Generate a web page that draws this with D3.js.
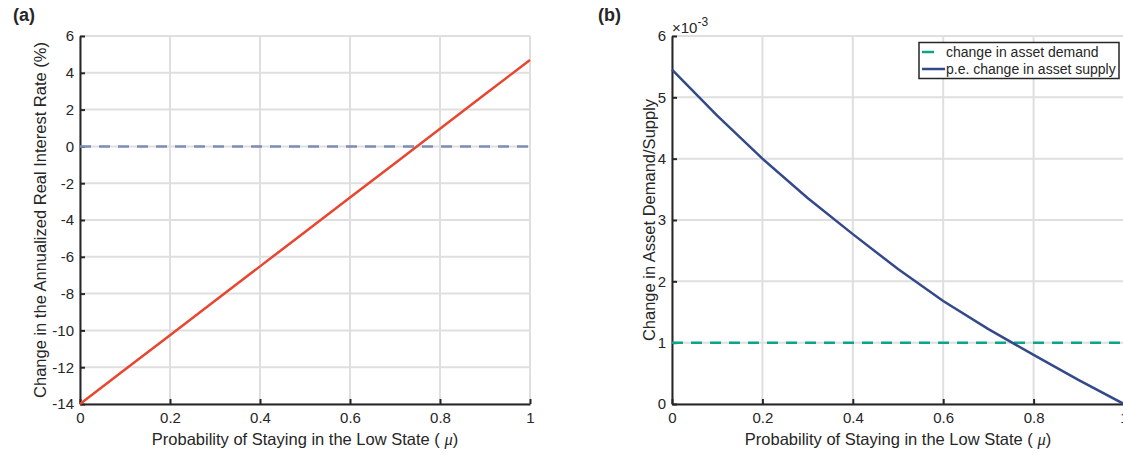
<!DOCTYPE html>
<html><head><meta charset="utf-8">
<script src="https://cdn.jsdelivr.net/npm/d3@7"></script>
<style>
html,body{margin:0;padding:0;background:#fff;}
svg{display:block;}
text{font-family:"Liberation Sans",Arial,Helvetica,sans-serif;fill:#262626;}
</style></head>
<body>
<svg id="chart" width="1123" height="455"></svg>
<script>
// ---- data ----
const mu = [0, 0.1, 0.2, 0.3, 0.4, 0.5, 0.6, 0.7, 0.8, 0.9, 1.0];
const rateChange = [-14, -12.13, -10.26, -8.39, -6.52, -4.65, -2.78, -0.91, 0.96, 2.83, 4.7];
const rateZero = [0, 0];
const muEnds = [0, 1];
const demandChange = [1.0, 1.0]; // x 10^-3
const supplyChange = [5.45, 4.70, 4.00, 3.36, 2.77, 2.20, 1.68, 1.22, 0.80, 0.39, 0.0]; // x 10^-3
const xTicks = [0, 0.2, 0.4, 0.6, 0.8, 1];
const xTickLabels = ["0", "0.2", "0.4", "0.6", "0.8", "1"];
const yTicksA = [-14, -12, -10, -8, -6, -4, -2, 0, 2, 4, 6];
const yTicksB = [0, 1, 2, 3, 4, 5, 6];
const legendLabels = ["change in asset demand", "p.e. change in asset supply"];
const xTitle = "Probability of Staying in the Low State (";
const yTitleA = "Change in the Annualized Real Interest Rate (%)";
const yTitleB = "Change in Asset Demand/Supply";

const svg = d3.select("#chart");
const plotTop = 36, plotBottom = 404;
const gridC = "#dfdfdf", axisC = "#262626";

function panel(x0, x1, yDomain, yTicks, opts) {
  const x = d3.scaleLinear().domain([0, 1]).range([x0, x1]);
  const y = d3.scaleLinear().domain(yDomain).range([plotBottom, plotTop]);
  const g = svg.append("g");
  // grid
  g.selectAll(".vg").data(xTicks).enter().append("line")
    .attr("x1", d => x(d)).attr("x2", d => x(d)).attr("y1", plotTop).attr("y2", plotBottom)
    .attr("stroke", gridC).attr("stroke-width", 2);
  g.selectAll(".hg").data(yTicks).enter().append("line")
    .attr("x1", x0).attr("x2", x1).attr("y1", d => y(d)).attr("y2", d => y(d))
    .attr("stroke", gridC).attr("stroke-width", 2);
  // axes
  const xa = g.append("g").attr("transform", `translate(0,${plotBottom})`)
    .call(d3.axisBottom(x).tickValues(xTicks).tickFormat((d, i) => xTickLabels[i]).tickSizeInner(-5).tickSizeOuter(0).tickPadding(8));
  xa.select(".domain").attr("stroke", axisC).attr("stroke-width", 2);
  xa.selectAll(".tick line").attr("stroke", axisC).attr("stroke-width", 2);
  xa.selectAll(".tick text").attr("font-size", 15).attr("fill", axisC)
    .attr("font-family", "Liberation Sans, Arial, sans-serif");
  const ya = g.append("g").attr("transform", `translate(${x0},0)`)
    .call(d3.axisLeft(y).tickValues(yTicks).tickFormat(d => String(d)).tickSizeInner(-5).tickSizeOuter(0).tickPadding(6));
  ya.select(".domain").attr("stroke", axisC).attr("stroke-width", 2);
  ya.selectAll(".tick line").attr("stroke", axisC).attr("stroke-width", 2);
  ya.selectAll(".tick text").attr("font-size", 15).attr("fill", axisC)
    .attr("font-family", "Liberation Sans, Arial, sans-serif");
  // x title
  const t = g.append("text").attr("x", (x0 + x1) / 2).attr("y", 445)
    .attr("text-anchor", "middle").attr("font-size", 16.5);
  t.append("tspan").text(xTitle + " ");
  t.append("tspan").attr("font-family", "Liberation Serif, serif").attr("font-style", "italic").text("μ");
  t.append("tspan").text(")");
  // y title
  g.append("text").attr("transform", `translate(${opts.yTitleX},${(plotTop + plotBottom) / 2}) rotate(-90)`)
    .attr("text-anchor", "middle").attr("dy", "0.35em").attr("font-size", 16.5).text(opts.yTitle);
  return {x, y, g};
}

// Panel (a)
const A = panel(80, 530, [-14, 6], yTicksA, {yTitle: yTitleA, yTitleX: 40});
A.g.append("path").datum(muEnds)
  .attr("d", d3.line().x((d) => A.x(d)).y((d, i) => A.y(rateZero[i])))
  .attr("fill", "none").attr("stroke", "#7d8db5").attr("stroke-width", 2.5).attr("stroke-dasharray", "11,8");
A.g.append("path").datum(mu)
  .attr("d", d3.line().x(d => A.x(d)).y((d, i) => A.y(rateChange[i])))
  .attr("fill", "none").attr("stroke", "#e8472f").attr("stroke-width", 2.5);

// Panel (b)
const B = panel(672, 1124, [0, 6], yTicksB, {yTitle: yTitleB, yTitleX: 649});
B.g.append("path").datum(muEnds)
  .attr("d", d3.line().x(d => B.x(d)).y((d, i) => B.y(demandChange[i])))
  .attr("fill", "none").attr("stroke", "#0aa58b").attr("stroke-width", 2.5).attr("stroke-dasharray", "11,8");
B.g.append("path").datum(mu)
  .attr("d", d3.line().x(d => B.x(d)).y((d, i) => B.y(supplyChange[i])))
  .attr("fill", "none").attr("stroke", "#34498a").attr("stroke-width", 2.5);

// exponent
const ex = svg.append("text").attr("x", 672).attr("y", 33).attr("font-size", 15);
ex.append("tspan").text("×10");
ex.append("tspan").attr("dy", -7).attr("font-size", 12).text("-3");

// legend
const lg = svg.append("g");
lg.append("rect").attr("x", 919).attr("y", 42.5).attr("width", 200).attr("height", 36)
  .attr("fill", "#fff").attr("stroke", axisC).attr("stroke-width", 1.5);
lg.append("line").attr("x1", 922).attr("x2", 934).attr("y1", 52).attr("y2", 52)
  .attr("stroke", "#0aa58b").attr("stroke-width", 2.5);
lg.append("line").attr("x1", 922).attr("x2", 945).attr("y1", 69).attr("y2", 69)
  .attr("stroke", "#34498a").attr("stroke-width", 2.5);
lg.selectAll(".lt").data(legendLabels).enter().append("text")
  .attr("x", 946).attr("y", (d, i) => 57 + i * 17).attr("font-size", 14).text(d => d);

// panel labels
svg.append("text").attr("x", 13).attr("y", 21).attr("font-size", 18).attr("font-weight", "bold")
  .attr("font-family", "Liberation Serif, Times New Roman, serif").text("(a)");
svg.append("text").attr("x", 598).attr("y", 21).attr("font-size", 18).attr("font-weight", "bold")
  .attr("font-family", "Liberation Serif, Times New Roman, serif").text("(b)");
</script>
</body></html>
